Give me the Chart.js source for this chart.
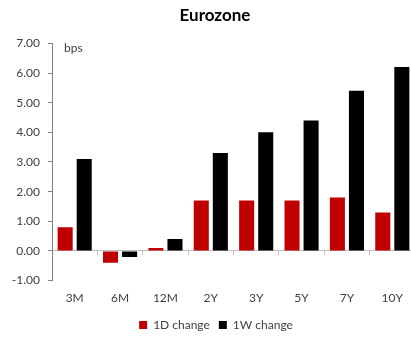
<!DOCTYPE html>
<html>
<head>
<meta charset="utf-8">
<script src="https://cdn.jsdelivr.net/npm/chart.js@4/dist/chart.umd.min.js"></script>
<style>
  html, body { margin: 0; padding: 0; background: #fff; overflow: hidden; }
  #wrap { width: 411px; height: 338px; overflow: hidden; }
</style>
</head>
<body>
<div id="wrap"><canvas id="c" width="420" height="338"></canvas></div>
<script>
const categories = ['3M', '6M', '12M', '2Y', '3Y', '5Y', '7Y', '10Y'];
const change1D = [0.8, -0.4, 0.1, 1.7, 1.7, 1.7, 1.8, 1.3];
const change1W = [3.1, -0.2, 0.4, 3.3, 4.0, 4.4, 5.4, 6.2];
const seriesNames = ['1D change', '1W change'];
const yTicks = [-1, 0, 1, 2, 3, 4, 5, 6, 7];

const FONT = 'Lato, "Open Sans", sans-serif';
const TEXT = '#404040';

// unit caption inside the plot, next to the top of the value axis
const unitLabel = {
  id: 'unitLabel',
  afterLayout(chart) {
    // nudge the legend row a little lower and centre title/legend over the plot
    if (chart.legend) {
      chart.legend.top += 3; chart.legend.bottom += 3;
      chart.legend.left += 3; chart.legend.right += 3;
    }
    if (chart.titleBlock) { chart.titleBlock.left += 2; chart.titleBlock.right += 2; }
  },
  afterDraw(chart) {
    const { ctx, chartArea } = chart;
    ctx.save();
    ctx.font = '12px ' + FONT;
    ctx.fillStyle = TEXT;
    ctx.textBaseline = 'middle';
    ctx.textAlign = 'left';
    ctx.fillText('bps', chartArea.left + 12, chartArea.top + 5);
    ctx.restore();
  }
};

new Chart(document.getElementById('c'), {
  type: 'bar',
  data: {
    labels: categories,
    datasets: [
      { label: seriesNames[0], data: change1D, backgroundColor: '#C00000' },
      { label: seriesNames[1], data: change1W, backgroundColor: '#000000' }
    ]
  },
  options: {
    responsive: false,
    animation: false,
    categoryPercentage: 0.84,
    barPercentage: 0.79,
    layout: { padding: { left: 11, right: 5, top: 0, bottom: 0 } },
    plugins: {
      title: {
        display: true,
        text: 'Eurozone',
        color: '#000',
        font: { family: FONT, size: 17, weight: 'bold' },
        padding: { top: 5, bottom: 18 }
      },
      legend: {
        position: 'bottom',
        labels: {
          color: TEXT,
          font: { family: FONT, size: 12 },
          boxWidth: 8,
          boxHeight: 8,
          padding: 9
        }
      },
      tooltip: { enabled: false }
    },
    scales: {
      x: {
        position: 'bottom',
        grid: { display: false },
        border: { display: false },
        ticks: { color: TEXT, font: { family: FONT, size: 12 }, padding: 2 }
      },
      x2: {
        type: 'category',
        position: { y: 0 },
        offset: true,
        grid: { offset: true, drawOnChartArea: false, drawTicks: true, tickLength: 4, color: '#BFBFBF' },
        border: { display: true, color: '#BFBFBF' },
        ticks: { display: false }
      },
      y: {
        min: yTicks[0],
        max: yTicks[yTicks.length - 1],
        afterBuildTicks(scale) { scale.ticks = yTicks.map(v => ({ value: v })); },
        grid: { drawOnChartArea: false, drawTicks: true, tickLength: 4, color: '#7F7F7F' },
        border: { display: true, color: '#7F7F7F' },
        ticks: {
          color: TEXT,
          font: { family: FONT, size: 12 },
          padding: 8,
          callback: v => Number(v).toFixed(2)
        },
        afterFit(scale) { scale.width = 41; }
      }
    }
  },
  plugins: [unitLabel]
});
</script>
</body>
</html>
